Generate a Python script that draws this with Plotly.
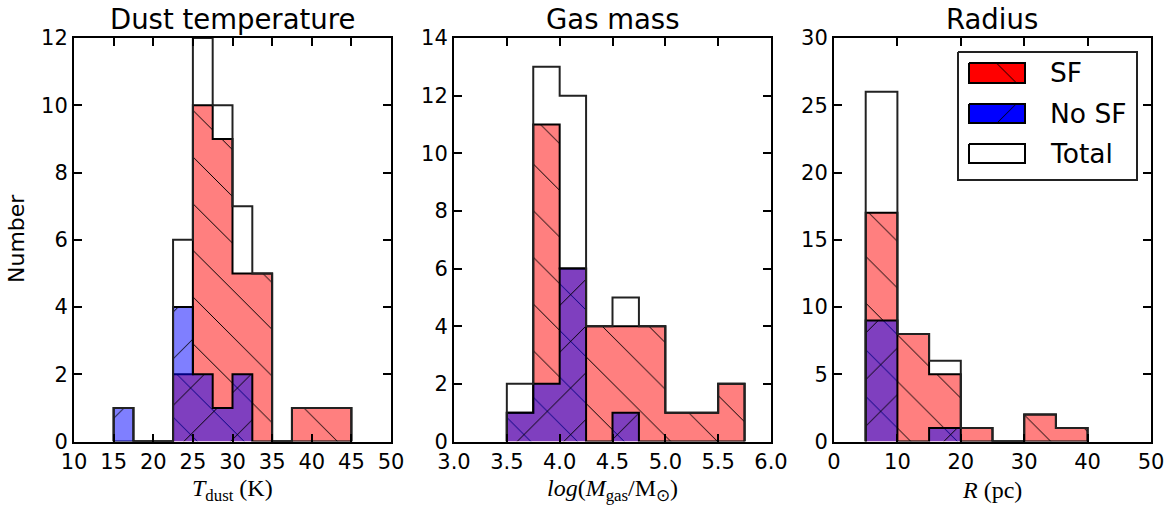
import plotly.graph_objects as go

W, H = 1175, 510

# ---------------- data ----------------
# Panel 1: dust temperature (K)
t_edges = [15.0, 17.5, 20.0, 22.5, 25.0, 27.5, 30.0, 32.5, 35.0, 37.5, 40.0, 42.5, 45.0]
t_sf    = [0, 0, 0, 2, 10, 9, 5, 5, 0, 1, 1, 1]
t_nosf  = [1, 0, 0, 4, 2, 1, 2, 0, 0, 0, 0, 0]
t_total = [1, 0, 0, 6, 12, 10, 7, 5, 0, 1, 1, 1]

# Panel 2: gas mass log(M/Msun)
m_edges = [3.5, 3.75, 4.0, 4.25, 4.5, 4.75, 5.0, 5.25, 5.5, 5.75]
m_sf    = [1, 11, 6, 4, 4, 4, 1, 1, 2]
m_nosf  = [1, 2, 6, 0, 1, 0, 0, 0, 0]
m_total = [2, 13, 12, 4, 5, 4, 1, 1, 2]

# Panel 3: radius (pc)
r_edges = [5, 10, 15, 20, 25, 30, 35, 40]
r_sf    = [17, 8, 5, 1, 0, 2, 1]
r_nosf  = [9, 0, 1, 0, 0, 0, 0]
r_total = [26, 8, 6, 1, 0, 2, 1]

titles = ["Dust temperature", "Gas mass", "Radius"]
xlabels = ["<i>T</i><sub>dust</sub> (K)",
           "<i>log</i>(<i>M</i><sub>gas</sub>/M<sub>⊙</sub>)",
           "<i>R</i> (pc)"]
x_ranges = [[10, 50], [3.0, 6.0], [0, 50]]
x_ticks = [[10, 15, 20, 25, 30, 35, 40, 45, 50],
           [3.0, 3.5, 4.0, 4.5, 5.0, 5.5, 6.0],
           [0, 10, 20, 30, 40, 50]]
y_ranges = [[0, 12], [0, 14], [0, 30]]
y_dticks = [2, 2, 5]
legend_labels = ["SF", "No SF", "Total"]

# ---------------- styling ----------------
SF_FILL = "rgba(255,0,0,0.5)"
NOSF_FILL = "rgba(0,0,255,0.5)"
EDGE = "black"
HATCH = 33
SOL = 0.03

px_dom = [(74, 391), (454, 771), (834, 1151)]
y_top, y_bot = 38, 441.5
ydom = [1 - y_bot / H, 1 - y_top / H]


def step_xy(edges, counts):
    xs, ys = [edges[0]], [0]
    for i, c in enumerate(counts):
        xs += [edges[i], edges[i + 1]]
        ys += [c, c]
    xs.append(edges[-1])
    ys.append(0)
    return xs, ys


fig = go.Figure()

panels = [(t_edges, t_sf, t_nosf, t_total),
          (m_edges, m_sf, m_nosf, m_total),
          (r_edges, r_sf, r_nosf, r_total)]

for k, (edges, sf, nosf, tot) in enumerate(panels, start=1):
    xa = "x" if k == 1 else f"x{k}"
    ya = "y" if k == 1 else f"y{k}"
    x, y = step_xy(edges, sf)
    fig.add_trace(go.Scatter(
        x=x, y=y, mode="lines", fill="toself", fillcolor=SF_FILL,
        fillpattern=dict(shape="\\", bgcolor=SF_FILL, fgcolor="black",
                         fgopacity=1, size=HATCH, solidity=SOL),
        line=dict(color=EDGE, width=2), xaxis=xa, yaxis=ya,
        showlegend=False, hoverinfo="skip"))
    x, y = step_xy(edges, nosf)
    fig.add_trace(go.Scatter(
        x=x, y=y, mode="lines", fill="toself", fillcolor=NOSF_FILL,
        fillpattern=dict(shape="/", bgcolor=NOSF_FILL, fgcolor="black",
                         fgopacity=1, size=HATCH, solidity=SOL),
        line=dict(color=EDGE, width=2), xaxis=xa, yaxis=ya,
        showlegend=False, hoverinfo="skip"))
    x, y = step_xy(edges, tot)
    fig.add_trace(go.Scatter(
        x=x, y=y, mode="lines", line=dict(color="#222222", width=2),
        xaxis=xa, yaxis=ya, showlegend=False, hoverinfo="skip"))

axis_common = dict(showline=True, linecolor="black", linewidth=2, mirror="ticks",
                   ticks="inside", ticklen=8, tickwidth=1.5, tickcolor="black",
                   showgrid=False, zeroline=False, automargin=False,
                   tickfont=dict(family="DejaVu Sans", size=21, color="black"))

layout = dict(width=W, height=H, margin=dict(l=0, r=0, t=0, b=0, autoexpand=False),
              paper_bgcolor="white", plot_bgcolor="rgba(0,0,0,0)",
              showlegend=False)

annotations = []
for i in range(3):
    k = i + 1
    xname = "xaxis" if k == 1 else f"xaxis{k}"
    yname = "yaxis" if k == 1 else f"yaxis{k}"
    d0, d1 = px_dom[i][0] / W, px_dom[i][1] / W
    layout[xname] = dict(axis_common, domain=[d0, d1], range=x_ranges[i],
                         tickvals=x_ticks[i],
                         tickformat=".1f" if i == 1 else "d",
                         anchor="y" if k == 1 else f"y{k}")
    layout[yname] = dict(axis_common, domain=ydom, range=y_ranges[i],
                         dtick=y_dticks[i], tick0=0,
                         anchor="x" if k == 1 else f"x{k}")
    cx = (d0 + d1) / 2
    annotations.append(dict(text=titles[i], x=cx, y=1 - 19 / H, xref="paper",
                            yref="paper", showarrow=False, xanchor="center",
                            yanchor="middle",
                            font=dict(family="DejaVu Sans", size=27.5, color="black")))
    annotations.append(dict(text=xlabels[i], x=cx, y=1 - 490 / H, xref="paper",
                            yref="paper", showarrow=False, xanchor="center",
                            yanchor="middle",
                            font=dict(family="Liberation Serif", size=24, color="black")))

annotations.append(dict(text="Number", x=16 / W, y=1 - 239 / H, xref="paper",
                        yref="paper", showarrow=False, textangle=-90,
                        xanchor="center", yanchor="middle",
                        font=dict(family="DejaVu Sans", size=22, color="black")))

# ---------------- legend (drawn on a pixel-space overlay axis) ----------------
layout["xaxis4"] = dict(domain=[0, 1], range=[0, W], visible=False, anchor="y4",
                        fixedrange=True, automargin=False)
layout["yaxis4"] = dict(domain=[0, 1], range=[H, 0], visible=False, anchor="x4",
                        fixedrange=True, automargin=False)

bx0, by0, bx1, by1 = 958, 52, 1137, 180
fig.add_trace(go.Scatter(x=[bx0, bx1, bx1, bx0, bx0], y=[by0, by0, by1, by1, by0],
                         mode="lines", fill="toself", fillcolor="white",
                         line=dict(color="#222222", width=2), xaxis="x4", yaxis="y4",
                         showlegend=False, hoverinfo="skip"))

patch_rows = [(63, 83), (104, 123), (144, 163)]
patch_styles = [("#ff0000", "\\"), ("#0000ff", "/"), ("white", "")]
for (py0, py1), (col, shp), lab in zip(patch_rows, patch_styles, legend_labels):
    px0, px1 = 969, 1025
    kw = {}
    if shp:
        kw["fillpattern"] = dict(shape=shp, bgcolor=col, fgcolor="black", fgopacity=1,
                                 size=HATCH, solidity=SOL)
    fig.add_trace(go.Scatter(x=[px0, px1, px1, px0, px0], y=[py0, py0, py1, py1, py0],
                             mode="lines", fill="toself", fillcolor=col,
                             line=dict(color="black", width=2), xaxis="x4", yaxis="y4",
                             showlegend=False, hoverinfo="skip", **kw))
    annotations.append(dict(text=lab, x=1048 / W, y=1 - ((py0 + py1) / 2) / H,
                            xref="paper", yref="paper", showarrow=False,
                            xanchor="left", yanchor="middle",
                            font=dict(family="DejaVu Sans", size=26.5, color="black")))

layout["annotations"] = annotations
fig.update_layout(**layout)

fig.write_html("out.html")
